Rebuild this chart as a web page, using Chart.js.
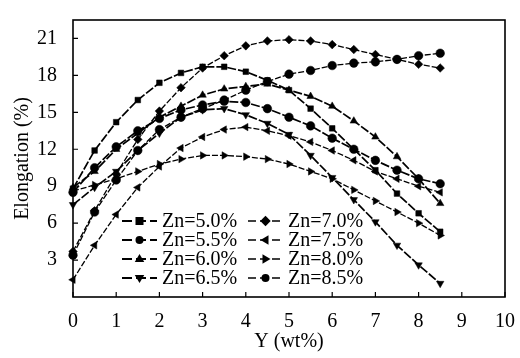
<!DOCTYPE html>
<html>
<head>
<meta charset="utf-8">
<script src="https://cdn.jsdelivr.net/npm/chart.js@4.4.0/dist/chart.umd.min.js"></script>
<style>
  html, body { margin: 0; padding: 0; background: #fff; }
  #wrap { width: 520px; height: 358px; }
</style>
</head>
<body>
<div id="wrap"><canvas id="elong"></canvas></div>
<script>
// Y content (wt%) on x axis
const yWt = [0, 0.5, 1, 1.5, 2, 2.5, 3, 3.5, 4, 4.5, 5, 5.5, 6, 6.5, 7, 7.5, 8, 8.5];

// elongation (%)
const zn50 = [8.8, 11.9, 14.2, 16.0, 17.4, 18.2, 18.7, 18.7, 18.3, 17.6, 16.8, 15.3, 13.7, 12.0, 10.3, 8.4, 6.8, 5.3];
const zn55 = [8.5, 10.5, 12.2, 13.5, 14.5, 15.2, 15.6, 15.9, 15.8, 15.3, 14.6, 13.9, 12.9, 12.0, 11.1, 10.3, 9.6, 9.2];
const zn60 = [8.9, 10.2, 12.0, 13.3, 14.6, 15.5, 16.4, 16.9, 17.1, 17.3, 16.8, 16.3, 15.5, 14.3, 13.0, 11.4, 9.6, 7.6];
const zn65 = [7.5, 8.9, 10.2, 11.9, 13.3, 14.6, 15.2, 15.3, 14.8, 14.1, 13.2, 11.5, 9.7, 7.9, 6.1, 4.2, 2.6, 1.1];
const zn70 = [3.7, 7.0, 10.0, 12.8, 15.1, 17.0, 18.6, 19.6, 20.4, 20.8, 20.9, 20.8, 20.5, 20.1, 19.7, 19.3, 18.9, 18.6];
const zn75 = [1.4, 4.2, 6.7, 8.9, 10.6, 12.1, 13.0, 13.6, 13.8, 13.5, 13.1, 12.6, 11.9, 11.1, 10.2, 9.6, 9.0, 8.5];
const zn80 = [8.6, 9.1, 9.6, 10.2, 10.8, 11.2, 11.5, 11.5, 11.4, 11.2, 10.8, 10.2, 9.6, 8.7, 7.8, 6.9, 6.0, 5.0];
const zn85 = [3.4, 6.9, 9.5, 11.9, 13.6, 14.6, 15.3, 16.0, 16.8, 17.5, 18.1, 18.4, 18.8, 19.0, 19.1, 19.3, 19.6, 19.8];

const seriesNames = ['Zn=5.0%', 'Zn=5.5%', 'Zn=6.0%', 'Zn=6.5%', 'Zn=7.0%', 'Zn=7.5%', 'Zn=8.0%', 'Zn=8.5%'];
const seriesValues = [zn50, zn55, zn60, zn65, zn70, zn75, zn80, zn85];

const xTicks = [0, 1, 2, 3, 4, 5, 6, 7, 8, 9, 10];
const yTicks = [3, 6, 9, 12, 15, 18, 21];

// marker style per series
const markers = [
    { style: 'rect', rot: 0 },
    { style: 'circle', rot: 0 },
    { style: 'triangle', rot: 0 },
    { style: 'triangle', rot: 180 },
    { style: 'rectRot', rot: 0 },
    { style: 'triangle', rot: 270 },
    { style: 'triangle', rot: 90 },
    { style: 'circle', rot: 0 }
];

const FONT = '"Liberation Serif", "Times New Roman", serif';

const datasets = seriesNames.map(function(name, i) {
    const heavy = i < 4;
    return {
        label: name,
        data: yWt.map((x, j) => ({ x: x, y: seriesValues[i][j] })),
        borderColor: '#000',
        backgroundColor: '#000',
        borderWidth: heavy ? 1.7 : 1.3,
        borderDash: heavy ? [9, 2] : [6, 2],
        pointStyle: markers[i].style,
        rotation: markers[i].rot,
        pointRadius: markers[i].style === 'rect' ? 4 : 4.3,
        pointBorderWidth: 0.5,
        tension: 0,
        clip: false
    };
});

// draws a marker for the legend
function drawMarker(ctx, style, rot, x, y, r) {
    ctx.save();
    ctx.translate(x, y);
    ctx.rotate(rot * Math.PI / 180);
    ctx.beginPath();
    if (style === 'rect') {
        ctx.rect(-r, -r, 2 * r, 2 * r);
    } else if (style === 'circle') {
        ctx.arc(0, 0, r, 0, Math.PI * 2);
    } else if (style === 'rectRot') {
        ctx.moveTo(0, -r * 1.3); ctx.lineTo(r * 1.3, 0); ctx.lineTo(0, r * 1.3); ctx.lineTo(-r * 1.3, 0);
        ctx.closePath();
    } else {
        const s = r * 1.25;
        ctx.moveTo(0, -s); ctx.lineTo(s * 0.95, s * 0.6); ctx.lineTo(-s * 0.95, s * 0.6);
        ctx.closePath();
    }
    ctx.fill();
    ctx.restore();
}

// frame, inward ticks and 2-column legend
const framePlugin = {
    id: 'frame',
    afterDraw(chart) {
        const ctx = chart.ctx;
        const a = chart.chartArea;
        const xs = chart.scales.x, ys = chart.scales.y;
        ctx.save();
        ctx.strokeStyle = '#000';
        ctx.lineWidth = 1.6;
        ctx.setLineDash([]);
        ctx.strokeRect(a.left, a.top, a.right - a.left, a.bottom - a.top);
        ctx.lineWidth = 1.2;
        ctx.beginPath();
        xTicks.forEach(function(v) {
            const px = xs.getPixelForValue(v);
            ctx.moveTo(px, a.bottom); ctx.lineTo(px, a.bottom - 5);
        });
        yTicks.forEach(function(v) {
            const py = ys.getPixelForValue(v);
            ctx.moveTo(a.left, py); ctx.lineTo(a.left + 5, py);
        });
        ctx.stroke();

        // legend
        ctx.fillStyle = '#000';
        ctx.font = '20px ' + FONT;
        ctx.textBaseline = 'middle';
        ctx.textAlign = 'left';
        seriesNames.forEach(function(name, i) {
            const col = Math.floor(i / 4), row = i % 4;
            const x0 = col === 0 ? 122 : 248;
            const y = 221 + row * 19;
            ctx.lineWidth = col === 0 ? 2 : 1.4;
            ctx.setLineDash(col === 0 ? [10, 4] : [8, 4]);
            ctx.beginPath();
            ctx.moveTo(x0, y); ctx.lineTo(x0 + 35, y);
            ctx.stroke();
            ctx.setLineDash([]);
            drawMarker(ctx, markers[i].style, markers[i].rot, x0 + 17.5, y, 4);
            ctx.fillText(name, x0 + 40, y + 1);
        });
        ctx.restore();
    }
};

new Chart(document.getElementById('elong'), {
    type: 'line',
    data: { datasets: datasets },
    options: {
        responsive: true,
        maintainAspectRatio: false,
        animation: false,
        layout: { padding: { top: 7, right: 10, left: 0, bottom: 0 } },
        plugins: {
            legend: { display: false },
            tooltip: { enabled: false }
        },
        scales: {
            x: {
                type: 'linear',
                min: 0,
                max: 10,
                afterFit: function(scale) { scale.height = 61; },
                afterBuildTicks: function(scale) { scale.ticks = xTicks.map(v => ({ value: v })); },
                grid: { display: false },
                border: { display: false },
                ticks: { color: '#000', padding: 5, font: { family: FONT, size: 20 } },
                title: {
                    display: true,
                    text: 'Y (wt%)',
                    color: '#000',
                    font: { family: FONT, size: 20 },
                    padding: { top: 0, bottom: 4 }
                }
            },
            y: {
                min: 0,
                max: 22.5,
                afterFit: function(scale) { scale.width = 73; },
                afterBuildTicks: function(scale) { scale.ticks = yTicks.map(v => ({ value: v })); },
                grid: { display: false },
                border: { display: false },
                ticks: { color: '#000', padding: 8, font: { family: FONT, size: 20 } },
                title: {
                    display: true,
                    text: 'Elongation (%)',
                    color: '#000',
                    font: { family: FONT, size: 20 },
                    padding: { top: 11, bottom: 0 }
                }
            }
        }
    },
    plugins: [framePlugin]
});
</script>
</body>
</html>
